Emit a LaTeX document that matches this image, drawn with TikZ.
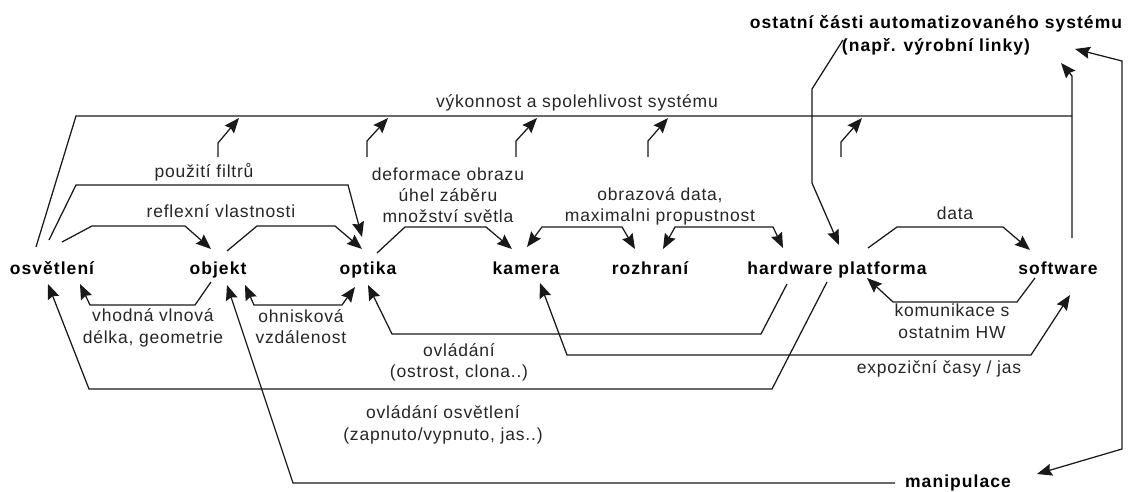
\documentclass[tikz,border=0pt]{standalone}
\usepackage{fontspec}
\setmainfont{Liberation Sans}[LetterSpace=4.5]
\newfontfamily\partfont{Liberation Sans}[LetterSpace=6]
\usetikzlibrary{arrows.meta}

\begin{document}
\begin{tikzpicture}[x=1pt,y=-1pt,
  link/.style={draw=black!90, line width=1.25pt},
  fwd/.style={-{Stealth[length=15pt,width=12pt,inset=2pt]}},
  twoway/.style={{Stealth[length=15pt,width=12pt,inset=2pt]}-{Stealth[length=15pt,width=12pt,inset=2pt]}},
  part/.style={font=\partfont\bfseries\fontsize{17.5}{23}\selectfont, inner sep=0pt, anchor=base},
  title/.style={font=\partfont\bfseries\fontsize{17.5}{23}\selectfont, inner sep=0pt, align=center, anchor=center},
  lbl/.style={font=\fontsize{17.5}{21.5}\selectfont, text=black!85, inner sep=0pt, align=center, anchor=center},
]
\useasboundingbox[fill=white] (0,0) rectangle (1133,492);

% components of the system
\node[part] (osv) at (52,274) {osvětlení};
\node[part] (obj) at (218,274) {objekt};
\node[part] (opt) at (368,274) {optika};
\node[part] (kam) at (526,274) {kamera};
\node[part] (roz) at (650,274) {rozhraní};
\node[part] (hw)  at (837,274) {hardware platforma};
\node[part] (sw)  at (1058,274) {software};
\node[part] (man) at (958,487) {manipulace};
\node[title] (ost) at (936,40) {\smash{ostatní části automatizovaného systému}\\\smash{(např. výrobní linky)}};

% edge labels (each line smashed so the node centre sits between first and last baseline)
\node[lbl] (vyk)  at (577,107.3) {\smash{výkonnost a spolehlivost systému}};
\node[lbl] (filt) at (204,177.3) {\smash{použití filtrů}};
\node[lbl] (refl) at (221,217.3) {\smash{reflexní vlastnosti}};
\node[lbl,font=\fontsize{17.5}{21}\selectfont] (defo) at (448,201.3) {\smash{deformace obrazu}\\\smash{úhel záběru}\\\smash{množství světla}};
\node[lbl,font=\fontsize{17.5}{21}\selectfont] (obrd) at (660,210.8) {\smash{obrazová data,}\\\smash{maximalni propustnost}};
\node[lbl] (data) at (955,219.3) {\smash{data}};
\node[lbl,font=\fontsize{17.5}{22}\selectfont] (vhod) at (153,332.3) {\smash{vhodná vlnová}\\\smash{délka, geometrie}};
\node[lbl,font=\fontsize{17.5}{20.5}\selectfont] (ohni) at (301,333) {\smash{ohnisková}\\\smash{vzdálenost}};
\node[lbl] (ovl)  at (459,366.8) {\smash{ovládání}\\\smash{(ostrost, clona..)}};
\node[lbl,font=\fontsize{17.5}{22}\selectfont] (ovo) at (443,429.3) {\smash{ovládání osvětlení}\\\smash{(zapnuto/vypnuto, jas..)}};
\node[lbl,font=\fontsize{17.5}{22}\selectfont] (komu) at (952,327.3) {\smash{komunikace s}\\\smash{ostatnim HW}};
\node[lbl] (expo) at (939,373) {\smash{expoziční časy / jas}};

% junction of the performance line with the software uplink
\coordinate (junc) at (1072,116);

% performance / reliability bus
\draw[link] ([shift={(-16,-27)}]osv.base) -- (76,116) -- (junc);
\draw[link,fwd] ([shift={(14,-36)}]sw.base) -- (1072,76) -- ([shift={(125,23)}]ost.center);

% short feeds into the performance bus
\coordinate (f1a) at (218,157); \coordinate (f1b) at (239,118);
\coordinate (f2a) at (367,157); \coordinate (f2b) at (388,118);
\coordinate (f3a) at (516,157); \coordinate (f3b) at (537,118);
\coordinate (f4a) at (648,157); \coordinate (f4b) at (668,118);
\coordinate (f5a) at (841,157); \coordinate (f5b) at (862,118);
\draw[link,fwd] (f1a) -- (218,143) -- (f1b);
\draw[link,fwd] (f2a) -- (367,141) -- (f2b);
\draw[link,fwd] (f3a) -- (516,141) -- (f3b);
\draw[link,fwd] (f4a) -- (648,141) -- (f4b);
\draw[link,fwd] (f5a) -- (841,142) -- (f5b);

% links with the rest of the line
\draw[link,fwd] ([shift={(-93,0)}]ost.center) -- (812,89) -- (812,183) -- ([shift={(2,-29)}]hw.base);
\draw[link,twoway] ([shift={(139,9)}]ost.center) -- (1122,61) -- (1122,449) -- ([shift={(79,-13)}]man.base);

% upper links
\draw[link,fwd] ([shift={(-3,-34)}]osv.base) -- (76,185) -- (348,185) -- ([shift={(-6,-37)}]opt.base);
\draw[link,fwd] ([shift={(10,-32)}]osv.base) -- (92,226) -- (185,226) -- ([shift={(-7,-25)}]obj.base);
\draw[link,fwd] ([shift={(9,-23)}]obj.base) -- (257,226) -- (335,226) -- ([shift={(-6,-25)}]opt.base);
\draw[link,fwd] ([shift={(9,-21)}]opt.base) -- (405,227) -- (486,227) -- ([shift={(-14,-25)}]kam.base);
\draw[link,twoway] ([shift={(1,-27)}]kam.base) -- (542,227) -- (622,227) -- ([shift={(-15,-25)}]roz.base);
\draw[link,twoway] ([shift={(13,-25)}]roz.base) -- (675,227) -- (773,227) -- ([shift={(-54,-26)}]hw.base);
\draw[link,fwd] ([shift={(31,-26)}]hw.base) -- (897,227) -- (1003,227) -- ([shift={(-28,-24)}]sw.base);

% lower links
\draw[link,fwd] ([shift={(-23,4)}]sw.base) -- (1017,302) -- (893,302) -- ([shift={(30,4)}]hw.base);
\draw[link,twoway] ([shift={(14,9)}]kam.base) -- (567,355) -- (1031,355) -- ([shift={(12,21)}]sw.base);
\draw[link,fwd] ([shift={(-50,10)}]hw.base) -- (761,334) -- (392,334) -- ([shift={(0,11)}]opt.base);
\draw[link,fwd] ([shift={(-10,8)}]hw.base) -- (772,389) -- (89,389) -- ([shift={(-4,10)}]osv.base);
\draw[link,fwd] ([shift={(-7,8)}]obj.base) -- (195,305) -- (90,305) -- ([shift={(28,10)}]osv.base);
\draw[link,twoway] ([shift={(27,11)}]obj.base) -- (254,305) -- (342,305) -- ([shift={(-13,13)}]opt.base);
\draw[link,fwd] ([shift={(-63,-4)}]man.base) -- (293,483) -- ([shift={(9,11)}]obj.base);
\end{tikzpicture}
\end{document}
